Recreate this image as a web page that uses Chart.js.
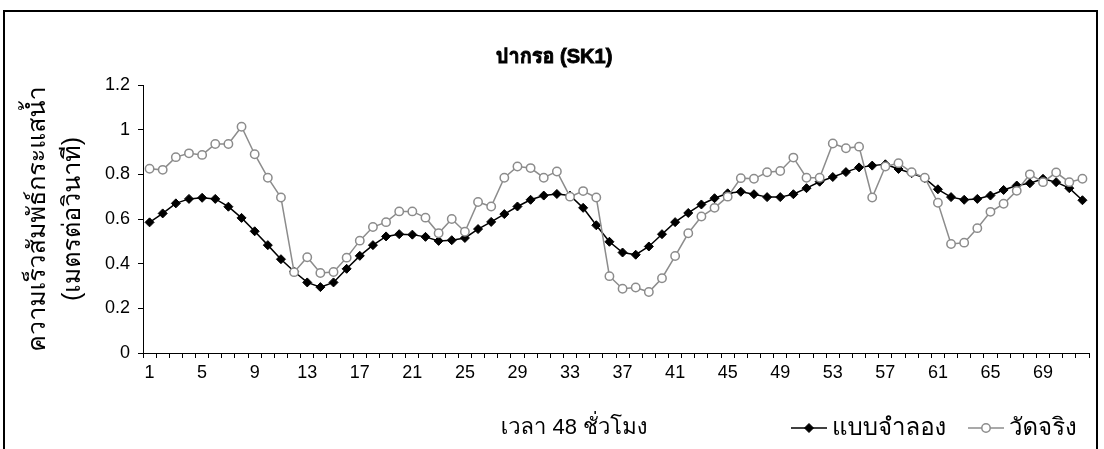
<!DOCTYPE html>
<html>
<head>
<meta charset="utf-8">
<title>ปากรอ (SK1)</title>
<script src="https://cdn.jsdelivr.net/npm/chart.js@4/dist/chart.umd.min.js"></script>
<style>
  html, body { margin: 0; padding: 0; background: #fff; }
  #wrap { position: relative; width: 1104px; height: 449px; }
  canvas { display: block; }
</style>
</head>
<body>
<div id="wrap"><canvas id="c" width="1104" height="449"></canvas></div>
<script>
// Hourly categories over the 72-step run
const hours = ['1','2','3','4','5','6','7','8','9','10','11','12','13','14','15','16','17','18','19','20',
  '21','22','23','24','25','26','27','28','29','30','31','32','33','34','35','36','37','38','39','40',
  '41','42','43','44','45','46','47','48','49','50','51','52','53','54','55','56','57','58','59','60',
  '61','62','63','64','65','66','67','68','69','70','71','72'];

// Model output (m/s)
const simulated = [0.585,0.625,0.67,0.69,0.695,0.69,0.655,0.605,0.545,0.483,
  0.42,0.365,0.316,0.295,0.316,0.377,0.435,0.483,0.522,0.532,
  0.53,0.52,0.502,0.505,0.515,0.555,0.587,0.622,0.656,0.686,
  0.705,0.712,0.705,0.65,0.572,0.498,0.45,0.44,0.477,0.532,
  0.586,0.627,0.665,0.693,0.715,0.722,0.711,0.698,0.698,0.711,
  0.738,0.767,0.788,0.81,0.831,0.839,0.845,0.824,0.805,0.783,
  0.733,0.698,0.686,0.69,0.705,0.73,0.75,0.76,0.78,0.765,0.738,0.684];

// Field measurements (m/s)
const observed = [0.825,0.82,0.877,0.894,0.887,0.936,0.936,1.013,0.89,0.785,
  0.696,0.362,0.429,0.358,0.363,0.427,0.503,0.564,0.586,0.634,
  0.634,0.606,0.536,0.6,0.543,0.676,0.656,0.785,0.835,0.828,
  0.785,0.813,0.70,0.725,0.696,0.344,0.288,0.293,0.273,0.335,
  0.434,0.536,0.611,0.65,0.70,0.783,0.78,0.809,0.815,0.875,
  0.785,0.785,0.938,0.917,0.924,0.696,0.835,0.85,0.809,0.785,
  0.673,0.488,0.494,0.559,0.632,0.668,0.726,0.80,0.765,0.808,0.765,0.78];

const seriesNames = ['แบบจำลอง', 'วัดจริง'];
const chartTitle = 'ปากรอ (SK1)';
const xTitle = 'เวลา 48 ชั่วโมง';
const yTitle = ['ความเร็วสัมพัธ์กระแสน้ำ', '(เมตรต่อวินาที)'];
const yMin = 0, yMax = 1.2, yStep = 0.2;

// Latin digits from Liberation Sans, Thai glyphs fall through to a Thai face
const FONT = "'Liberation Sans', Arial, Tahoma, Loma, Garuda, 'Noto Sans Thai Looped', 'Noto Sans Thai', 'DejaVu Sans', sans-serif";

// Draws a series marker (diamond or hollow circle) at x, y
function drawMarker(ctx, ds, x, y) {
  const r = ds.pointRadius;
  ctx.save();
  ctx.lineWidth = ds.pointBorderWidth;
  ctx.strokeStyle = ds.pointBorderColor;
  ctx.fillStyle = ds.pointBackgroundColor;
  ctx.beginPath();
  if (ds.pointStyle === 'rectRot') {
    ctx.moveTo(x, y - r); ctx.lineTo(x + r, y); ctx.lineTo(x, y + r); ctx.lineTo(x - r, y); ctx.closePath();
  } else {
    ctx.arc(x, y, r, 0, Math.PI * 2);
  }
  ctx.fill();
  ctx.stroke();
  ctx.restore();
}

const decorations = {
  id: 'decorations',
  beforeDraw(chart) {
    const ctx = chart.ctx;
    ctx.save();
    ctx.fillStyle = '#fff';
    ctx.fillRect(0, 0, chart.width, chart.height);
    ctx.restore();
  },
  afterDraw(chart) {
    const ctx = chart.ctx;
    ctx.save();
    // outer frame
    ctx.strokeStyle = '#000';
    ctx.lineWidth = 2;
    ctx.strokeRect(4, 11, 1093, 460);

    ctx.fillStyle = '#000';
    ctx.textBaseline = 'middle';
    // chart title (heavy weight)
    ctx.textAlign = 'center';
    ctx.font = `bold 20px ${FONT}`;
    ctx.lineWidth = 0.9;
    ctx.strokeStyle = '#000';
    ctx.fillText(chartTitle, 554, 57);
    ctx.strokeText(chartTitle, 554, 57);
    // category axis title
    ctx.font = `22px ${FONT}`;
    ctx.fillText(xTitle, 574, 428);

    // legend: line sample with marker, then name
    const starts = [791, 968];
    const y = 428;
    chart.data.datasets.forEach((ds, i) => {
      const x0 = starts[i];
      ctx.strokeStyle = ds.borderColor;
      ctx.lineWidth = ds.borderWidth;
      ctx.beginPath();
      ctx.moveTo(x0, y);
      ctx.lineTo(x0 + 36, y);
      ctx.stroke();
      drawMarker(ctx, ds, x0 + 18, y);
      ctx.fillStyle = '#000';
      ctx.textAlign = 'left';
      ctx.font = `24px ${FONT}`;
      ctx.fillText(ds.label, x0 + 41, y);
    });
    ctx.restore();
  }
};

new Chart(document.getElementById('c'), {
  type: 'line',
  data: {
    labels: hours,
    datasets: [
      {
        label: seriesNames[0],
        data: simulated,
        borderColor: '#000',
        borderWidth: 1.5,
        pointStyle: 'rectRot',
        pointRadius: 4.5,
        pointBorderWidth: 1,
        pointBackgroundColor: '#000',
        pointBorderColor: '#000',
        tension: 0,
        order: 2
      },
      {
        label: seriesNames[1],
        data: observed,
        borderColor: '#8c8c8c',
        borderWidth: 1.5,
        pointStyle: 'circle',
        pointRadius: 4.2,
        pointBorderWidth: 1.5,
        pointBackgroundColor: '#fff',
        pointBorderColor: '#8c8c8c',
        tension: 0,
        order: 1
      }
    ]
  },
  options: {
    responsive: false,
    animation: false,
    devicePixelRatio: 1,
    layout: { padding: { left: 4, top: 85, right: 15, bottom: 0 } },
    plugins: {
      legend: { display: false },
      title: { display: false },
      tooltip: { enabled: false }
    },
    scales: {
      x: {
        type: 'category',
        offset: true,
        grid: { display: true, drawOnChartArea: false, offset: true, tickLength: 5, color: '#000', tickColor: '#000', lineWidth: 1 },
        border: { display: true, color: '#000', width: 1 },
        ticks: {
          autoSkip: false, maxRotation: 0, minRotation: 0, padding: 4,
          color: '#000', font: { family: FONT, size: 18 },
          callback: (v, i) => (i % 4 === 0 ? hours[i] : '')
        },
        afterFit: (s) => { s.height = 96; }
      },
      y: {
        min: yMin, max: yMax,
        grid: { display: true, drawOnChartArea: false, tickLength: 5, color: '#000', tickColor: '#000', lineWidth: 1 },
        border: { display: true, color: '#000', width: 1 },
        ticks: {
          stepSize: yStep, padding: 8, color: '#000', font: { family: FONT, size: 18 },
          callback: (v) => String(Math.round(v * 10) / 10)
        },
        title: {
          display: true, text: yTitle, color: '#000',
          font: { family: FONT, size: 25, lineHeight: 1.42 },
          padding: { top: 16, bottom: 0 }
        },
        afterFit: (s) => { s.width = 139; }
      }
    }
  },
  plugins: [decorations]
});
</script>
</body>
</html>
